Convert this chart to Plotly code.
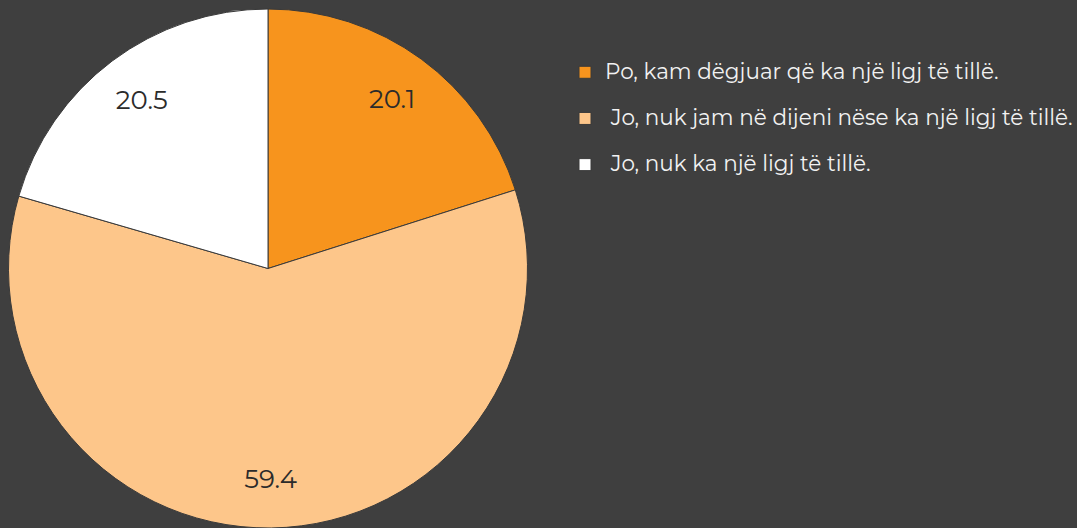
import plotly.graph_objects as go

labels = [
    "Po, kam dëgjuar që ka një ligj të tillë.",
    "\u00a0Jo, nuk jam në dijeni nëse ka një ligj të tillë.",
    "\u00a0Jo, nuk ka një ligj të tillë.",
]
values = [20.1, 59.4, 20.5]
colors = ["#F7941D", "#FDC68A", "#FFFFFF"]

W, H = 1077, 528
BG = "#3F3F3F"
FONT = "Montserrat, 'Open Sans', Lato, sans-serif"
DOMAIN = dict(x=[8 / W, 528 / W], y=[0, 1])

legend_labels = [
    '<span style="font-size:21.5px">' + l + "</span><br> " for l in labels
]

fig = go.Figure()
# main pie (slices + legend)
fig.add_trace(
    go.Pie(
        labels=legend_labels,
        values=values,
        sort=False,
        direction="clockwise",
        rotation=0,
        marker=dict(colors=colors, line=dict(color="#3A3A3A", width=1)),
        textinfo="none",
        domain=DOMAIN,
        hoverinfo="label+value",
    )
)
# overlay ring carrying the value labels (positions them at ~0.8 r)
fig.add_trace(
    go.Pie(
        labels=legend_labels,
        values=values,
        sort=False,
        direction="clockwise",
        rotation=0,
        hole=0.62,
        marker=dict(colors=["rgba(0,0,0,0)"] * 3, line=dict(width=0)),
        texttemplate="%{value}",
        textposition="inside",
        insidetextorientation="horizontal",
        textfont=dict(size=26, color="#2B2B2B", family=FONT),
        domain=DOMAIN,
        showlegend=False,
        hoverinfo="skip",
    )
)

fig.update_layout(
    width=W,
    height=H,
    paper_bgcolor=BG,
    plot_bgcolor=BG,
    margin=dict(l=0, r=0, t=9, b=0, autoexpand=False),
    showlegend=True,
    legend=dict(
        xref="container",
        yref="container",
        x=565 / W,
        y=1 - 55 / H,
        xanchor="left",
        yanchor="top",
        valign="top",
        font=dict(size=16.6, color="#F2F2F2", family=FONT),
        bgcolor="rgba(0,0,0,0)",
        traceorder="normal",
    ),
)

fig.write_html(
    "out.html",
    config={"displayModeBar": False},
    post_script="document.body.style.margin='0';document.body.style.background='#3F3F3F';",
)
